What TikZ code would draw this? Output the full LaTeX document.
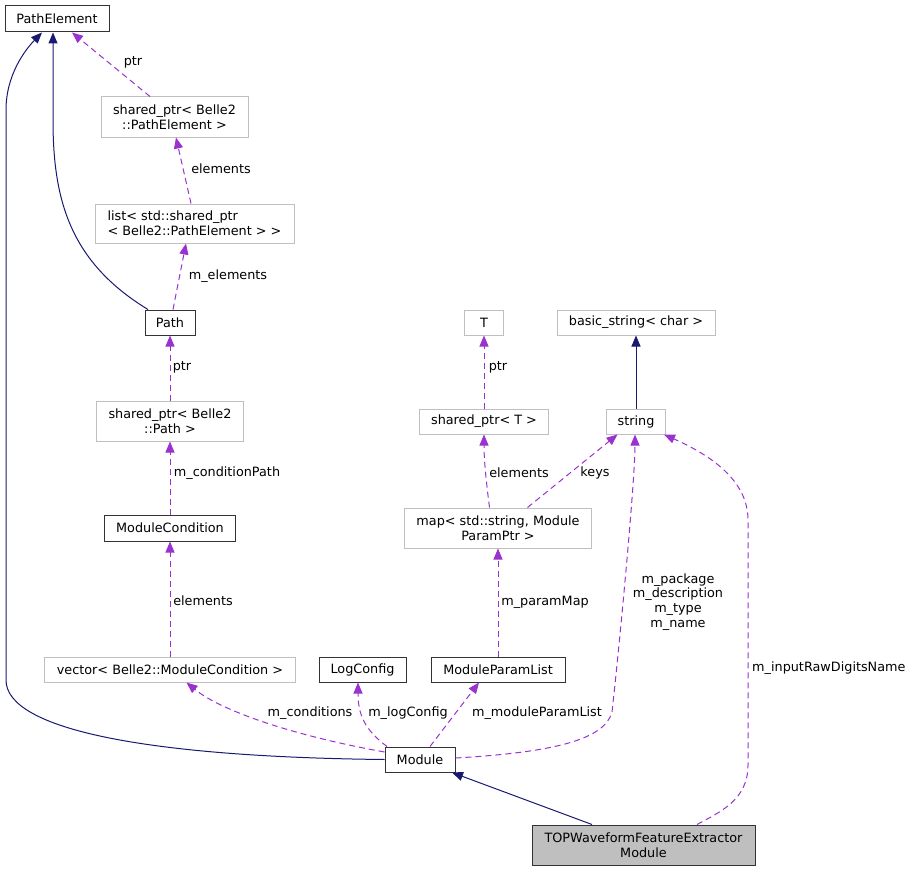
\documentclass[tikz,border=0pt]{standalone}
\usepackage{fontspec}
\setmainfont{DejaVu Sans}
\usetikzlibrary{arrows.meta}
\definecolor{navy}{HTML}{191970}
\definecolor{orchid}{HTML}{9A32CD}
\definecolor{docborder}{HTML}{333333}
\definecolor{extborder}{HTML}{BFBFBF}
\definecolor{mainfill}{HTML}{BFBFBF}
\begin{document}
\begin{tikzpicture}[x=1pt,y=-1pt,
  font=\fontsize{12.8}{14.8}\selectfont,
  box/.style={draw, line width=1pt, inner sep=0pt, align=center, fill=white},
  doc/.style={box, draw=docborder},
  ext/.style={box, draw=extborder},
  inh/.style={draw=navy, line width=1pt, -{Triangle[length=11pt,width=9pt]}},
  use/.style={draw=orchid, line width=1pt, dash pattern=on 6pt off 4pt, -{Triangle[length=11pt,width=9pt]}},
  lbl/.style={inner sep=0pt, align=center}]
\useasboundingbox (0,0) rectangle (917,872);

% nodes
\node[doc, minimum width=104pt, minimum height=26pt] (pe) at (57,19) {PathElement};
\node[ext, minimum width=147pt, minimum height=40pt] (sppe) at (174.5,117) {shared\_ptr< Belle2\\::PathElement >};
\node[ext, minimum width=199pt, minimum height=39pt, align=left] (list) at (194.5,223.5) {list< std::shared\_ptr\\< Belle2::PathElement > >};
\node[doc, minimum width=50pt, minimum height=25pt] (path) at (170,322.5) {Path};
\node[ext, minimum width=147pt, minimum height=40pt] (sppath) at (170,421) {shared\_ptr< Belle2\\::Path >};
\node[doc, minimum width=131pt, minimum height=26pt] (modcond) at (170,528) {ModuleCondition};
\node[ext, minimum width=251pt, minimum height=25pt] (vec) at (170,669.5) {vector< Belle2::ModuleCondition >};
\node[doc, minimum width=87pt, minimum height=25pt] (logc) at (362.5,669.5) {LogConfig};
\node[doc, minimum width=70pt, minimum height=25pt] (module) at (420,759.5) {Module};
\node[ext, minimum width=39pt, minimum height=25pt] (T) at (484,322.5) {T};
\node[ext, minimum width=158pt, minimum height=25pt] (bstr) at (636,322.5) {basic\_string< char >};
\node[ext, minimum width=129pt, minimum height=25pt] (spT) at (484,421.5) {shared\_ptr< T >};
\node[ext, minimum width=59pt, minimum height=25pt] (str) at (636,421.5) {string};
\node[ext, minimum width=187pt, minimum height=40pt] (map) at (498,528) {map< std::string, Module\\ParamPtr >};
\node[doc, minimum width=134pt, minimum height=25pt] (mpl) at (498,669.5) {ModuleParamList};
\node[doc, fill=mainfill, minimum width=223pt, minimum height=40pt] (top) at (643.5,845) {TOPWaveformFeatureExtractor\\Module};

% edges
\draw[inh] (module.west) .. controls (150,757) and (6,730) .. (6,680) -- (6,110) .. controls (6,75) and (25,50) .. ([xshift=-15pt]pe.south);
\draw[inh] ([xshift=-22pt]path.north) .. controls (70,262) and (53,200) .. (53,120) -- ([xshift=-4pt]pe.south);
\draw[use] ([xshift=-24.5pt]sppe.north) -- ([xshift=15pt]pe.south);
\draw[use] ([xshift=-3.5pt]list.north) -- ([xshift=1.5pt]sppe.south);
\draw[use] ([xshift=3pt]path.north) -- ([xshift=-8.5pt]list.south);
\draw[use] (sppath.north) -- (path.south);
\draw[use] (modcond.north) -- (sppath.south);
\draw[use] (vec.north) -- (modcond.south);
\draw[use] ([yshift=7.5pt]module.west) .. controls (290,735) and (220,710) .. ([xshift=16.5pt]vec.south);
\draw[use] ([xshift=-33pt]module.north) .. controls (365,730) and (358,715) .. ([xshift=-4.5pt]logc.south);
\draw[use] ([xshift=10pt]module.north) -- ([xshift=-19pt]mpl.south);
\draw[use] (mpl.north) -- (map.south);
\draw[use] ([xshift=-8.5pt]map.north) .. controls (486,480) and (484,460) .. (spT.south);
\draw[use] ([xshift=29.5pt]map.north) -- ([xshift=-18.5pt]str.south);
\draw[use] (spT.north) -- (T.south);
\draw[inh] (str.north) -- (bstr.south);
\draw[use] ([yshift=1.5pt]module.east) .. controls (560,752) and (605,738) .. (612,712) .. controls (620,640) and (635,480) .. ([xshift=-1pt]str.south);
\draw[use] ([xshift=53.5pt]top.north) .. controls (720,812) and (748,800) .. (748,765) -- (748,520) .. controls (748,480) and (710,455) .. ([xshift=28pt]str.south);
\draw[inh] ([xshift=-51.5pt]top.north) -- ([xshift=32pt]module.south);

% labels
\node[lbl] (l1) at (133,62) {ptr};
\node[lbl] (l2) at (221,169) {elements};
\node[lbl] (l3) at (228,276) {m\_elements};
\node[lbl] (l4) at (182,367) {ptr};
\node[lbl] (l5) at (227,473) {m\_conditionPath};
\node[lbl] (l6) at (203,601) {elements};
\node[lbl] (l7) at (310,713) {m\_conditions};
\node[lbl] (l8) at (408,713) {m\_logConfig};
\node[lbl] (l9) at (537,713) {m\_moduleParamList};
\node[lbl] (l10) at (545,602) {m\_paramMap};
\node[lbl] (l11) at (519,473) {elements};
\node[lbl] (l12) at (595,473) {keys};
\node[lbl] (l13) at (498,367) {ptr};
\node[lbl] (l14) at (678,602) {m\_package\\m\_description\\m\_type\\m\_name};
\node[lbl, anchor=west] (l15) at (752,668) {m\_inputRawDigitsName};
\end{tikzpicture}
\end{document}
